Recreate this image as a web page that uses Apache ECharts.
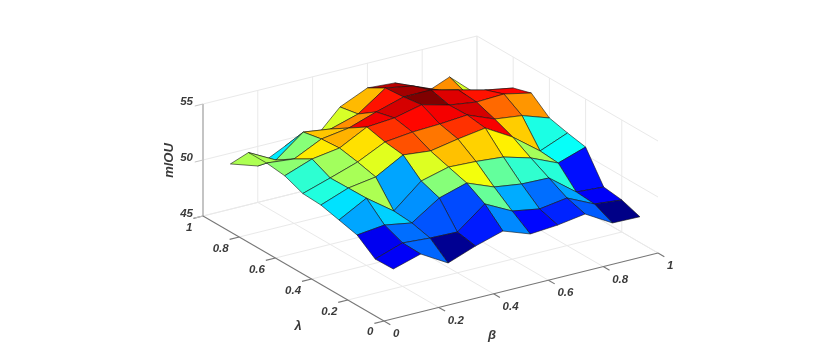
<!DOCTYPE html>
<html><head><meta charset="utf-8"><style>html,body{margin:0;padding:0;background:#fff}#c{width:830px;height:349px}</style>
<script src="https://cdn.jsdelivr.net/npm/echarts@6/dist/echarts.min.js"></script></head>
<body><div id="c"></div>
<script>
const betaValues   = [0.1,0.2,0.3,0.4,0.5,0.6,0.7,0.8,0.9,1.0];
const lambdaValues = [0.1,0.2,0.3,0.4,0.5,0.6,0.7,0.8,0.9,1.0];
const betaTicks   = [0,0.2,0.4,0.6,0.8,1];
const lambdaTicks = [0,0.2,0.4,0.6,0.8,1];
const miouTicks   = [45,50,55];
// one row per lambda value, one column per beta value
const miouL01 = [48.10,48.83,47.42,48.33,49.06,48.19,48.38,48.76,47.35,47.30];
const miouL02 = [48.05,48.88,48.71,48.64,50.54,49.30,48.88,49.25,48.11,47.86];
const miouL03 = [49.26,49.54,49.12,50.74,51.47,50.51,50.17,50.10,48.24,48.08];
const miouL04 = [49.66,51.00,49.25,51.32,51.96,51.85,51.64,50.95,49.89,50.71];
const miouL05 = [50.06,50.97,51.35,52.71,52.46,52.92,53.29,51.88,50.03,51.03];
const miouL06 = [50.15,50.93,51.75,52.93,53.21,53.32,53.52,52.55,52.25,51.43];
const miouL07 = [50.80,51.69,52.06,53.33,53.53,54.10,53.47,53.13,53.24,52.72];
const miouL08 = [51.00,50.75,51.93,52.30,53.13,53.86,53.88,53.27,52.66,52.23];
const miouL09 = [51.00,49.72,51.61,51.28,52.01,53.72,53.30,52.30,51.30,50.20];
const miouL10 = [49.04,48.25,49.43,49.27,51.70,52.79,52.63,50.95,51.95,49.79];
const miouRows = [miouL01,miouL02,miouL03,miouL04,miouL05,miouL06,miouL07,miouL08,miouL09,miouL10];

// orthographic view of the three data axes, in the plot's units
const view = {ox:384, oy:321, bx:274, by:-68, lx:-181, ly:-105, zy:-11.2, zBase:45};
function project(b,l,z){
  return [view.ox+b*view.bx+l*view.lx, view.oy+b*view.by+l*view.ly+(z-view.zBase)*view.zy];
}
const zAll = miouRows.flat();
const zMin = Math.min(...zAll), zMax = Math.max(...zAll);
function clamp(v){return Math.max(0,Math.min(1,v));}
function jet(v){
  const t=(v-zMin)/(zMax-zMin);
  const c=k=>Math.round(255*clamp(1.5-Math.abs(4*t-k)));
  return `rgb(${c(3)},${c(2)},${c(1)})`;
}
const cells=[];
for(let j=lambdaValues.length-2;j>=0;j--)
  for(let i=betaValues.length-2;i>=0;i--)
    cells.push([i,j,miouRows[j][i]]);

const gridColor='#e9e9e9', axisColor='#777', wallAxis='#c4c4c4', textColor='#3a3a3a';
const tickFont='italic bold 11.5px "Liberation Sans", Arial, sans-serif';
const titleFont='italic bold 13px "Liberation Sans", Arial, sans-serif';
const zLo=miouTicks[0], zHi=miouTicks[miouTicks.length-1];

// [b1,l1,z1,b2,l2,z2,kind]
const lines=[];
betaTicks.forEach(b=>{ if(b>0){ lines.push([b,0,zLo,b,1,zLo,'g']); lines.push([b,1,zLo,b,1,zHi,'g']); }});
lambdaTicks.forEach(l=>{ if(l>0){ lines.push([0,l,zLo,1,l,zLo,'g']); lines.push([1,l,zLo,1,l,zHi,'g']); }});
miouTicks.forEach(z=>{ lines.push([0,1,z,1,1,z,'g']); lines.push([1,1,z,1,0,z,'g']); });
lines.push([0,1,zLo,0,1,zHi,'w']);
lines.push([0,0,zLo,0,1,zLo,'a']);
lines.push([0,0,zLo,1,0,zLo,'a']);
betaTicks.forEach(b=>lines.push([b,0,zLo,b,-0.035,zLo,'a']));
lambdaTicks.forEach(l=>lines.push([0,l,zLo,-0.035,l,zLo,'a']));
miouTicks.forEach(z=>lines.push([0,1,z,-0.03,1,z,'w2']));

// [text, anchor b,l,z, dx,dy, align]
const labels=[];
lambdaTicks.forEach(l=>labels.push([String(l),0,l,zLo,-10.5,l>0.5?12:(l>0.1?11.5:11),'right']));
betaTicks.forEach(b=>labels.push([String(b),b,0,zLo,9,13,'left']));
miouTicks.forEach(z=>labels.push([String(z),0,1,z,-10,-2.5,'right']));

const chart=echarts.init(document.getElementById('c'),null,{renderer:'canvas'});
chart.setOption({
  animation:false,
  backgroundColor:'#fff',
  grid:{left:0,top:0,width:830,height:349},
  xAxis:{type:'value',min:0,max:830,show:false},
  yAxis:{type:'value',min:0,max:349,inverse:true,show:false},
  series:[
   {type:'custom',name:'box',coordinateSystem:'cartesian2d',silent:true,clip:false,data:lines,
    encode:{x:0,y:1},
    renderItem(p,api){
      const d=lines[p.dataIndex];
      const a=api.coord(project(d[0],d[1],d[2])), b=api.coord(project(d[3],d[4],d[5]));
      const k=d[6];
      return {type:'line',shape:{x1:a[0],y1:a[1],x2:b[0],y2:b[1]},
        style:{stroke:k==='g'?gridColor:k==='a'?axisColor:wallAxis,lineWidth:k==='w'?2:k==='a'?1.1:1,fill:null}};
    }},
   {type:'custom',name:'mIOU',coordinateSystem:'cartesian2d',silent:true,clip:false,data:cells,
    encode:{x:0,y:1},
    renderItem(p,api){
      const [i,j,v]=cells[p.dataIndex];
      const pts=[[i,j],[i+1,j],[i+1,j+1],[i,j+1]].map(q=>api.coord(project(betaValues[q[0]],lambdaValues[q[1]],miouRows[q[1]][q[0]])));
      return {type:'polygon',shape:{points:pts},style:{fill:jet(v),stroke:'rgba(20,20,20,0.75)',lineWidth:0.8,lineJoin:'round'}};
    }},
   {type:'custom',name:'labels',coordinateSystem:'cartesian2d',silent:true,clip:false,data:labels,
    encode:{x:1,y:2},
    renderItem(p,api){
      const d=labels[p.dataIndex];
      const a=api.coord(project(d[1],d[2],d[3]));
      return {type:'text',style:{text:d[0],x:a[0]+d[4],y:a[1]+d[5],align:d[6],verticalAlign:'middle',font:tickFont,fill:textColor}};
    }}
  ],
  graphic:[
   {type:'text',x:169,y:160.5,rotation:Math.PI/2,style:{text:'mIOU',align:'center',verticalAlign:'middle',font:titleFont,fill:textColor}},
   {type:'text',x:298,y:326,style:{text:'λ',align:'center',verticalAlign:'middle',font:titleFont,fill:textColor}},
   {type:'text',x:492,y:335,style:{text:'β',align:'center',verticalAlign:'middle',font:titleFont,fill:textColor}}
  ]
});
</script></body></html>
